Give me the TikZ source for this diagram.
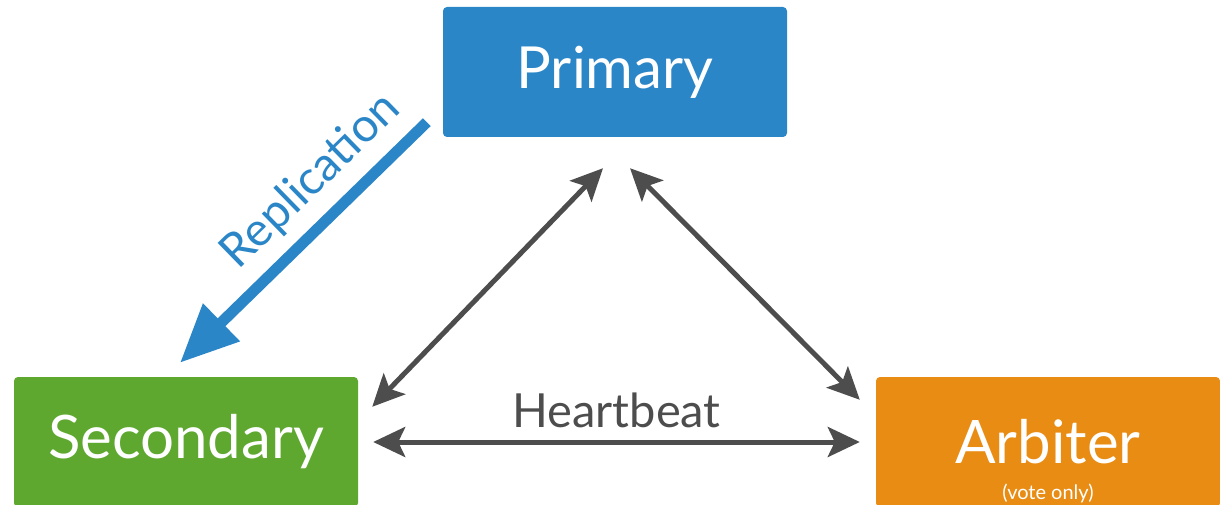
\documentclass[tikz,border=0pt]{standalone}
\usepackage{fontspec}
\setmainfont{Lato}
\usetikzlibrary{arrows.meta}
\definecolor{primblue}{RGB}{43,134,200}
\definecolor{secgreen}{RGB}{94,168,48}
\definecolor{arborange}{RGB}{232,140,20}
\definecolor{hbgray}{RGB}{77,77,77}
\begin{document}
\begin{tikzpicture}[%
  x = 1pt, y = 1pt,
  box/.style = {rounded corners = 4pt, minimum width = 344pt, minimum height = 130pt,
    inner sep = 0pt, text = white, font = \fontsize{60}{70}\selectfont},
  hb/.style = {hbgray, line width = 5pt, {Stealth[length = 32pt, width = 30pt, inset = 7pt]}-{Stealth[length = 32pt, width = 30pt, inset = 7pt]}},
  repl/.style = {primblue, line width = 11pt, -{Triangle[length = 58pt, width = 50pt]}}]
  \useasboundingbox (0, 0) rectangle (1220, 504);
  \node[box, fill = primblue, font = \fontsize{58}{68}\selectfont] (prim) at (615, 432) {Primary};
  \node[box, fill = secgreen] (sec) at (186, 62) {Secondary};
  \node[box, fill = arborange] (arb) at (1048, 62) {Arbiter};
  \node[text = white, font = \fontsize{20}{24}\selectfont] (vote) at ([yshift = 14pt]arb.south) {(vote only)};

  \draw[repl] ([xshift = -16pt, yshift = 15pt]prim.south west) -- ([xshift = -6pt, yshift = 14pt]sec.north)
    node[pos = 0.36, sloped, above = 8pt, text = primblue, font = \fontsize{47}{55}\selectfont] {Replication};
  \draw[hb] ([xshift = -12pt, yshift = -31pt]prim.south) -- ([xshift = 14pt, yshift = -30pt]sec.north east);
  \draw[hb] ([xshift = 15pt, yshift = -31pt]prim.south) -- ([xshift = -16pt, yshift = -23pt]arb.north west);
  \draw[hb] ([xshift = 15pt]sec.east) -- ([xshift = -16pt]arb.west)
    node[midway, above, inner sep = 12pt, text = hbgray, font = \fontsize{47}{56}\selectfont] {Heartbeat};
\end{tikzpicture}
\end{document}
